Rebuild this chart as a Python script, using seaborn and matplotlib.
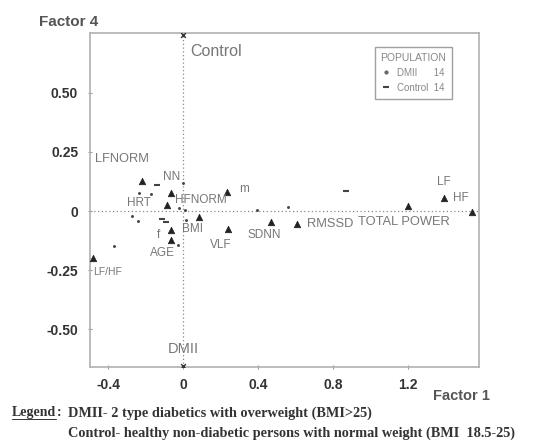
import matplotlib
matplotlib.use("Agg")
import matplotlib.pyplot as plt
import seaborn as sns
import pandas as pd
from matplotlib.lines import Line2D

# ---- data ----
var_names = ["LFNORM", "NN", "HFNORM", "f", "AGE", "BMI", "VLF", "m", "SDNN",
             "RMSSD", "TOTAL POWER", "HF", "LF", "LF/HF"]
var_f1 = [-0.22, -0.064, -0.085, -0.064, -0.064, 0.085, 0.24, 0.235, 0.47,
          0.61, 1.20, 1.39, 1.54, -0.48]
var_f4 = [0.127, 0.076, 0.025, -0.080, -0.123, -0.025, -0.076, 0.080, -0.047,
          -0.055, 0.021, 0.055, -0.004, -0.200]

# individuals (small marks)
ind_f1 = [-0.139, -0.235, -0.171, 0.0, -0.272, -0.240, -0.112, -0.091,
          -0.021, 0.011, 0.016, -0.027, -0.368, 0.395, 0.56, 0.87]
ind_f4 = [0.110, 0.076, 0.072, 0.119, -0.021, -0.042, -0.034, -0.047,
          0.013, 0.004, -0.038, -0.144, -0.148, 0.004, 0.017, 0.085]
ind_pop = ["Control", "DMII", "DMII", "DMII", "DMII", "DMII", "Control", "Control",
           "DMII", "DMII", "DMII", "DMII", "DMII", "DMII", "DMII", "Control"]

# population centroids
pop_names = ["Control", "DMII"]
pop_f1 = [0.0, 0.0]
pop_f4 = [0.745, -0.655]
pop_counts = [14, 14]

x_ticks = [-0.4, 0, 0.4, 0.8, 1.2]
x_ticklabels = ["-0.4", "0", "0.4", "0.8", "1.2"]
y_ticks = [0.5, 0.25, 0, -0.25, -0.5]
y_ticklabels = ["0.50", "0.25", "0", "-0.25", "-0.50"]

# label placement (offsets in points, relative to the variable marker)
label_offsets = {
    "LFNORM": (-34, 16), "NN": (-6, 11.5), "HFNORM": (6, 4), "f": (-10, -3.6),
    "AGE": (-15, -9), "BMI": (-12, -9), "VLF": (-13, -11.5), "m": (9, 2),
    "SDNN": (-17, -9), "RMSSD": (7, 0), "TOTAL POWER": (-36, -11.5),
    "HF": (6.5, 0), "LF": (-25, 21.6), "LF/HF": (0, -10),
}
label_sizes = {"LFNORM": 9.3, "RMSSD": 9.3, "TOTAL POWER": 9.3, "LF/HF": 7.5}

sns.set_theme(style="white")
plt.rcParams["font.family"] = ["Liberation Sans", "DejaVu Sans"]

fig = plt.figure(figsize=(5.36, 4.45), dpi=100)
ax = fig.add_axes([0.168, 0.175, 0.726, 0.751])

ax.set_xlim(-0.496, 1.579)
ax.set_ylim(-0.661, 0.754)

# reference lines
ax.axvline(0, color="#888888", lw=0.9, ls=(0, (1, 2)), zorder=1)
ax.axhline(0, color="#888888", lw=0.9, ls=(0, (1, 2)), zorder=1)

var_df = pd.DataFrame({"f1": var_f1, "f4": var_f4, "name": var_names})
ind_df = pd.DataFrame({"f1": ind_f1, "f4": ind_f4, "pop": ind_pop})
pop_df = pd.DataFrame({"f1": pop_f1, "f4": pop_f4, "pop": pop_names})

sns.scatterplot(data=var_df, x="f1", y="f4", marker="^", s=22, color="#222222",
                edgecolor="#222222", linewidth=0.5, ax=ax, legend=False, zorder=3)
sns.scatterplot(data=ind_df[ind_df["pop"] == "DMII"], x="f1", y="f4", marker=".",
                s=18, color="#444444", linewidth=0, ax=ax, legend=False, zorder=3)
sns.scatterplot(data=ind_df[ind_df["pop"] == "Control"], x="f1", y="f4", marker="_",
                s=20, color="#444444", linewidth=1.5, ax=ax, legend=False, zorder=3)
sns.scatterplot(data=pop_df, x="f1", y="f4", marker="x", s=12, color="#333333",
                linewidth=1.0, ax=ax, legend=False, zorder=3)

for name, x, y in zip(var_names, var_f1, var_f4):
    dx, dy = label_offsets[name]
    ax.annotate(name, (x, y), xytext=(dx, dy), textcoords="offset points",
                fontsize=label_sizes.get(name, 8.5), color="#777777",
                va="center", ha="left")

ax.annotate("Control", (pop_f1[0], pop_f4[0]), xytext=(5, -11.5), textcoords="offset points",
            fontsize=11.5, color="#777777", va="center", ha="left")
ax.annotate("DMII", (pop_f1[1], pop_f4[1]), xytext=(-11, 12), textcoords="offset points",
            fontsize=10.5, color="#777777", va="center", ha="left")

# HRT extra label
ax.annotate("HRT", (var_f1[0], var_f4[0]), xytext=(-11, -16), textcoords="offset points",
            fontsize=8.5, color="#777777", va="center", ha="left")

ax.set_xticks(x_ticks)
ax.set_xticklabels(x_ticklabels)
ax.set_yticks(y_ticks)
ax.set_yticklabels(y_ticklabels)
ax.tick_params(axis="both", which="both", length=3, width=0.8, color="#999999",
               labelsize=10, labelcolor="#333333", direction="inout",
               bottom=True, left=True)
ax.tick_params(axis="x", pad=6)
ax.tick_params(axis="y", pad=7)
for lab in ax.get_xticklabels() + ax.get_yticklabels():
    lab.set_fontweight("bold")
ax.set_xlabel("")
ax.set_ylabel("")

for sp in ax.spines.values():
    sp.set_color("#b0b0b0")
    sp.set_linewidth(1.2)

# custom legend box
handles = [Line2D([], [], marker=".", ls="", color="#666666", markersize=4,
                  label=f"{pop_names[1]}      {pop_counts[1]}"),
           Line2D([], [], marker="_", ls="", color="#444444", markersize=4, mew=1.5,
                  label=f"{pop_names[0]}  {pop_counts[0]}")]
leg = ax.legend(handles=handles, title="POPULATION", loc="upper right",
                bbox_to_anchor=(0.943, 0.972), fontsize=7, title_fontsize=7.5,
                frameon=True, fancybox=False, handlelength=0.8, handletextpad=0.7,
                borderpad=0.6, labelspacing=0.5)
leg.get_frame().set_edgecolor("#888888")
leg.get_frame().set_linewidth(1.0)
plt.setp(leg.get_texts(), color="#888888")
leg.get_title().set_color("#888888")

fig.text(0.073, 0.950, "Factor 4", fontsize=11, fontweight="bold", color="#555555",
         va="center")
fig.text(0.808, 0.110, "Factor 1", fontsize=10.5, fontweight="bold", color="#555555",
         va="center")

fig.text(0.022, 0.072, "Legend", family="Liberation Serif", fontsize=10,
         color="#333333", fontweight="bold", va="center")
fig.add_artist(Line2D([0.022, 0.105], [0.058, 0.058], color="#333333", lw=0.7,
                      transform=fig.transFigure))
fig.text(0.107, 0.072, ":", family="Liberation Serif", fontsize=10,
         color="#333333", fontweight="bold", va="center")
fig.text(0.127, 0.072, "DMII- 2 type diabetics with overweight (BMI>25)",
         family="Liberation Serif", fontsize=10.3, color="#333333", fontweight="bold",
         va="center")
fig.text(0.127, 0.027, "Control- healthy non-diabetic persons with normal weight (BMI  18.5-25)",
         family="Liberation Serif", fontsize=10.3, color="#333333", fontweight="bold",
         va="center")

fig.savefig("out.png", dpi=100, facecolor="white")
